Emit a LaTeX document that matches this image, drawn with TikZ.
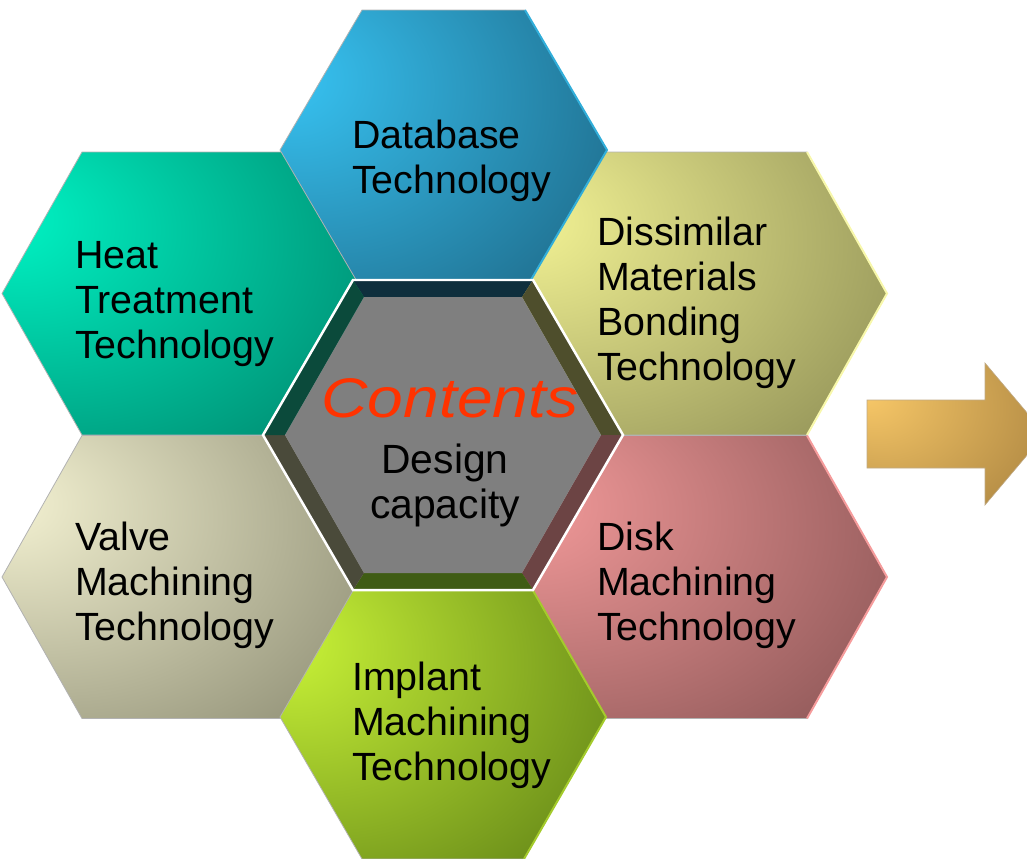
\documentclass[tikz,border=0pt]{standalone}
\usepackage{fontspec}
\setmainfont{Liberation Sans}
\colorlet{hexA}{white}
\colorlet{hexB}{black}
\pgfdeclareradialshading[hexA,hexB]{hexshade}{\pgfpoint{-26bp}{14bp}}{color(0bp)=(hexA); color(60bp)=(hexB); color(90bp)=(hexB)}
\definecolor{dbA}{HTML}{38C6F6}\definecolor{dbB}{HTML}{17506A}
\definecolor{htA}{HTML}{00F6C6}\definecolor{htB}{HTML}{006A56}
\definecolor{dsA}{HTML}{F6F696}\definecolor{dsB}{HTML}{767646}
\definecolor{vlA}{HTML}{F6F4D4}\definecolor{vlB}{HTML}{72725A}
\definecolor{dkA}{HTML}{F69C9C}\definecolor{dkB}{HTML}{704444}
\definecolor{imA}{HTML}{CCF638}\definecolor{imB}{HTML}{46660E}
\definecolor{arA}{HTML}{F8C868}\definecolor{arB}{HTML}{967236}
\definecolor{bvT}{HTML}{0F2F3D}\definecolor{bvTR}{HTML}{4E4E2C}
\definecolor{bvBR}{HTML}{6C4444}\definecolor{bvB}{HTML}{3F5C14}
\definecolor{bvBL}{HTML}{4A4A3A}\definecolor{bvTL}{HTML}{0B4A3B}
\definecolor{faceG}{HTML}{7F7F7F}
\definecolor{contentsred}{HTML}{FF3300}
\tikzset{
  hexfill/.style 2 args={/utils/exec={\colorlet{hexA}{#1}\colorlet{hexB}{#2}}, shading=hexshade},
  hexp/.style n args={5}{insert path={({#1-#3},#2) -- ({#1-#3+#4},{#2-#5}) -- ({#1+#3-#4},{#2-#5}) -- ({#1+#3},#2) -- ({#1+#3-#4},{#2+#5}) -- ({#1-#3+#4},{#2+#5}) -- cycle}},
  hexright/.style n args={5}{insert path={({#1+#3-#4},{#2-#5}) -- ({#1+#3},#2) -- ({#1+#3-#4},{#2+#5})}},
  hexout/.style={draw=black!30, line width=0.8},
  hextext/.style={font=\fontsize{39.5}{45}\selectfont, align=left, anchor=base west, inner sep=0pt, text=black},
}
\begin{document}
\begin{tikzpicture}[x=1bp, y=-1bp]
\useasboundingbox (0,0) rectangle (1027,859);
\clip (0,0) rectangle (1027,859);
% side hexagons
\path[hexfill={htA}{htB}, hexout, hexp={187}{293.5}{185}{80}{141.5}];
\path[hexfill={dsA}{dsB}, hexout, hexp={702}{293.5}{185}{80}{141.5}];
\draw[dsA!80!white, line width=2, hexright={702}{293.5}{185}{80}{141.5}];
\path[hexfill={vlA}{vlB}, hexout, hexp={187}{577}{185}{80}{141.5}];
\path[hexfill={dkA}{dkB}, hexout, hexp={702}{577}{185}{80}{141.5}];
\draw[dkA, line width=2, hexright={702}{577}{185}{80}{141.5}];
% top and bottom hexagons
\path[hexfill={dbA}{dbB}, hexout, hexp={443.5}{150}{163.5}{82}{140}];
\draw[dbA!80!dbB, line width=2, hexright={443.5}{150}{163.5}{82}{140}];
\path[hexfill={imA}{imB}, hexout, hexp={443}{717}{163}{82}{142}];
\draw[imA!70!imB, line width=2, hexright={443}{717}{163}{82}{142}];
% centre hexagon
\coordinate (oL) at (263,435);  \coordinate (oTL) at (353,280); \coordinate (oTR) at (533,280);
\coordinate (oR) at (623,435);  \coordinate (oBR) at (533,590); \coordinate (oBL) at (353,590);
\coordinate (iL) at (285,435);  \coordinate (iTL) at (364,297); \coordinate (iTR) at (522,297);
\coordinate (iR) at (601,435);  \coordinate (iBR) at (522,573); \coordinate (iBL) at (364,573);
\fill[bvT]  (oTL) -- (oTR) -- (iTR) -- (iTL) -- cycle;
\fill[bvTR] (oTR) -- (oR) -- (iR) -- (iTR) -- cycle;
\fill[bvBR] (oR) -- (oBR) -- (iBR) -- (iR) -- cycle;
\fill[bvB]  (oBR) -- (oBL) -- (iBL) -- (iBR) -- cycle;
\fill[bvBL] (oBL) -- (oL) -- (iL) -- (iBL) -- cycle;
\fill[bvTL] (oL) -- (oTL) -- (iTL) -- (iL) -- cycle;
\fill[faceG] (iL) -- (iTL) -- (iTR) -- (iR) -- (iBR) -- (iBL) -- cycle;
\draw[white, line width=2.5, line join=miter] (oL) -- (oTL) -- (oTR) -- (oR) -- (oBR) -- (oBL) -- cycle;
% arrow
\path[hexfill={arA}{arB}, draw=arB!60!white, line width=0.6]
  (867,400) -- (985,400) -- (985,363) -- (1045,434) -- (985,505) -- (985,468) -- (867,468) -- cycle;
% texts (anchor at the baseline of the last line)
\node[hextext] (tdb) at (352,193) {Database\\Technology};
\node[hextext] (theat) at (75,358) {Heat\\Treatment\\Technology};
\node[hextext] (tdis) at (597,380) {Dissimilar\\Materials\\Bonding\\Technology};
\node[hextext] (tvalve) at (75,640) {Valve\\Machining\\Technology};
\node[hextext] (tdisk) at (597,640) {Disk\\Machining\\Technology};
\node[hextext] (timp) at (352,780) {Implant\\Machining\\Technology};
\node[anchor=base, inner sep=0pt, font=\fontsize{56}{60}\selectfont\itshape, text=contentsred, xscale=1.15] (tcont) at (450,417) {Contents};
\node[anchor=base, inner sep=0pt, align=center, font=\fontsize{41}{45}\selectfont] (tdesign) at (445,518) {Design\\capacity};
\end{tikzpicture}
\end{document}
